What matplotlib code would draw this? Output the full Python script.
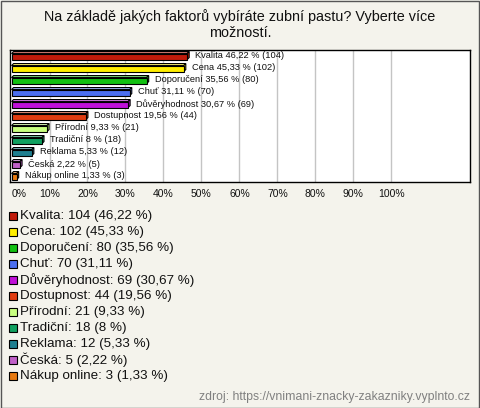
import matplotlib
matplotlib.use("Agg")
from matplotlib import pyplot as plt
from matplotlib.patches import Polygon, Rectangle
from matplotlib.colors import to_rgb

plt.rcParams['font.family'] = ['Liberation Sans', 'DejaVu Sans']

categories = ["Kvalita", "Cena", "Doporučení", "Chuť", "Důvěryhodnost",
              "Dostupnost", "Přírodní", "Tradiční", "Reklama", "Česká",
              "Nákup online"]
counts = [104, 102, 80, 70, 69, 44, 21, 18, 12, 5, 3]
percents = [46.22, 45.33, 35.56, 31.11, 30.67, 19.56, 9.33, 8, 5.33, 2.22, 1.33]
colors = ["#C01A0A", "#FFEE00", "#12C012", "#4B6FF0", "#C010D8", "#E03C10",
          "#C8FF80", "#10A060", "#1F7F90", "#C060C8", "#E87A10"]
ticks = list(range(0, 101, 10))

W, H = 480, 408
bg = "#F4F3EC"


def fmt(p):
    s = ("%.2f" % p).rstrip('0').rstrip('.')
    return s.replace('.', ',')


def lighter(c, f=0.45):
    r, g, b = to_rgb(c)
    return (r + (1 - r) * f, g + (1 - g) * f, b + (1 - b) * f)


fig = plt.figure(figsize=(W / 100, H / 100), dpi=100)
fig.patch.set_facecolor(bg)
fig.patches.append(Rectangle((0.5 / W, 0.5 / H), 1 - 1.5 / W, 1 - 1.5 / H,
                             transform=fig.transFigure, fill=False,
                             edgecolor="#555555", linewidth=1))

fig.text(0.5, 1 - 17 / H, "Na základě jakých faktorů vybíráte zubní pastu? Vyberte více",
         ha='center', va='center', fontsize=10.4, color="#111111")
fig.text(0.5, 1 - 33 / H, "možností.", ha='center', va='center',
         fontsize=10.4, color="#111111")

ax = fig.add_axes([10 / W, 1 - 182 / H, 460 / W, 132 / H])
ax.set_facecolor("white")
ax.set_xlim(-0.4, 120.7)
ax.set_ylim(len(categories) - 0.5, -0.5)
for sp in ax.spines.values():
    sp.set_color("black")
    sp.set_linewidth(1)
for t in ticks[1:]:
    ax.axvline(t, color="#C4C4C4", linewidth=1, zorder=0)

dx = 0.55
dy = 0.17
for i, (v, c) in enumerate(zip(percents, colors)):
    top = i - 0.2
    bot = i + 0.3
    ax.add_patch(Polygon([(0, top), (v, top), (v + dx, top - dy), (dx, top - dy)],
                         closed=True, facecolor=lighter(c), edgecolor="black",
                         linewidth=0.8, zorder=2))
    ax.add_patch(Polygon([(v, top), (v + dx, top - dy), (v + dx, bot - dy), (v, bot)],
                         closed=True, facecolor=c, edgecolor="black",
                         linewidth=0.8, zorder=2))
    ax.barh(i + 0.05, v, height=0.5, color=c, edgecolor="black",
            linewidth=0.8, zorder=3)
    ax.text(v + dx + 1.6, i, "%s %s %% (%d)" % (categories[i], fmt(v), counts[i]),
            ha='left', va='center', fontsize=6.7, color="#111111", zorder=4)

ax.set_yticks([])
ax.set_xticks(ticks)
ax.set_xticklabels(["%d%%" % t for t in ticks], fontsize=7.5, color="#111111")
ax.tick_params(axis='x', length=0, pad=5)
ax.get_xticklabels()[0].set_horizontalalignment('left')

for i, (cat, n, p, c) in enumerate(zip(categories, counts, percents, colors)):
    yc = 216 + 16 * i
    fig.patches.append(Rectangle((9 / W, 1 - (yc + 4) / H), 8 / W, 8 / H,
                                 transform=fig.transFigure, facecolor=c,
                                 edgecolor="black", linewidth=0.8))
    fig.text(20 / W, 1 - yc / H, "%s: %d (%s %%)" % (cat, n, fmt(p)),
             ha='left', va='center', fontsize=9.6, color="#111111")

fig.text(470 / W, 1 - 397 / H, "zdroj: https://vnimani-znacky-zakazniky.vyplnto.cz",
         ha='right', va='center', fontsize=8.8, color="#808080")

fig.savefig("out.png", dpi=100, facecolor=bg)
